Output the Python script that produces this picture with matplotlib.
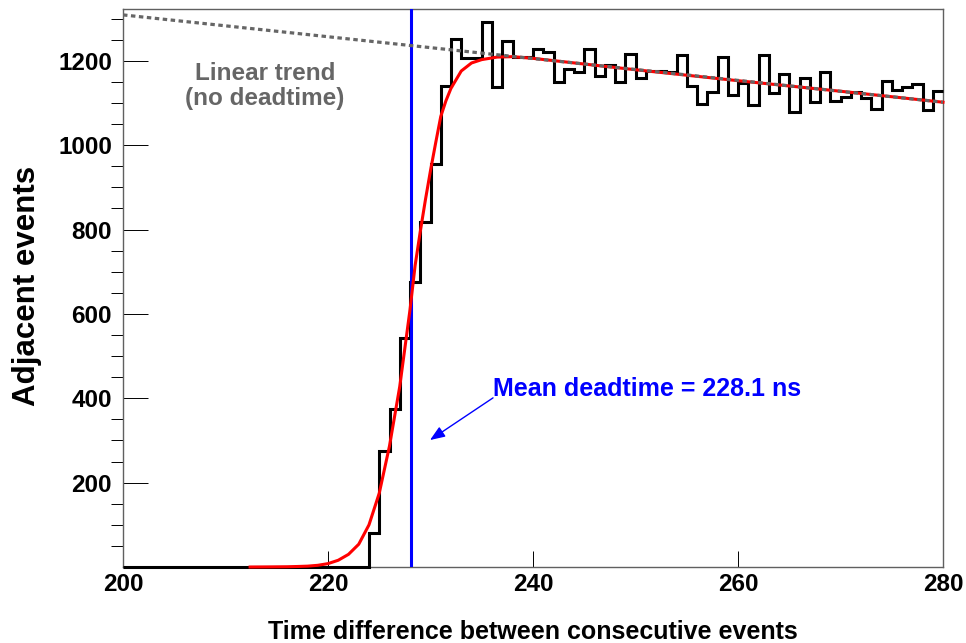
import numpy as np
import matplotlib.pyplot as plt
from matplotlib.ticker import FixedLocator

# ------------------------------------------------------------
# data
# ------------------------------------------------------------
bin_edges = np.arange(200, 281)          # 1 ns bins, 200 .. 280
counts = [0] * 24 + [                    # 200 .. 223 empty
    81, 275, 375, 542, 676, 818, 955, 1141,          # 224 .. 231
    1252, 1206, 1208, 1291, 1137, 1246, 1210, 1210,  # 232 .. 239
    1228, 1220, 1151, 1180, 1173, 1228, 1165, 1190,  # 240 .. 247
    1149, 1216, 1159, 1176, 1176, 1173, 1214, 1141,  # 248 .. 255
    1098, 1126, 1209, 1118, 1147, 1096, 1213, 1123,  # 256 .. 263
    1169, 1078, 1160, 1103, 1173, 1106, 1115, 1127,  # 264 .. 271
    1111, 1085, 1153, 1130, 1137, 1145, 1084, 1129,  # 272 .. 279
]

# fitted curve (red)
fit_t = [212.4, 214, 216, 217, 218, 219, 220, 221, 222, 223, 224, 225,
         226, 227, 228, 228.5, 229, 229.5, 230, 230.5, 231, 231.5, 232,
         233, 234, 235, 236.5, 238, 240, 250, 260, 270, 280]
fit_y = [0, 0.2, 0.6, 1.2, 2, 4, 8, 16, 30, 54, 100, 175,
         287, 428, 610, 715, 795, 870, 940, 1005, 1068, 1105, 1135,
         1176, 1195, 1203, 1209, 1210, 1206, 1179, 1153, 1128, 1102]

# linear trend (no deadtime)
trend_t = [200, 280]
trend_y = [1309, 1102]

mean_deadtime = 228.1

# ------------------------------------------------------------
# figure
# ------------------------------------------------------------
plt.rcParams['font.family'] = ['Liberation Sans', 'DejaVu Sans']
plt.rcParams['font.weight'] = 'bold'

fig = plt.figure(figsize=(9.66, 6.43), dpi=100)
ax = fig.add_axes([123 / 966, 1 - 567 / 643, 820 / 966, 558 / 643])

ax.stairs(counts, bin_edges, color='black', lw=2.2, baseline=None,
          clip_on=False, zorder=2.6)
ax.axvline(mean_deadtime, color='#0000ff', lw=2.2, zorder=3)
ax.plot(fit_t, fit_y, color='#ff0000', lw=2.2, zorder=4, clip_on=False)
ax.plot(trend_t, trend_y, color='#666666', lw=2.3,
        linestyle=(0, (1.4, 1.1)), zorder=5)

ax.set_xlim(200, 280)
ax.set_ylim(0, 1323)

# ticks (ROOT-like: inward, left/bottom only)
ax.set_xticks([200, 220, 240, 260, 280])
ax.set_yticks([200, 400, 600, 800, 1000, 1200])
ax.yaxis.set_minor_locator(FixedLocator(
    [v for v in range(50, 1301, 50) if v % 200 != 0]))
ax.tick_params(axis='both', direction='in', labelsize=17.5, colors='black')
ax.tick_params(axis='x', length=11.5, width=0.7, pad=4)
ax.tick_params(axis='y', which='major', length=18, width=0.7, pad=8)
ax.tick_params(axis='y', which='minor', length=8.6, width=0.7)
for lab in ax.get_xticklabels() + ax.get_yticklabels():
    lab.set_fontweight('bold')
for sp in ax.spines.values():
    sp.set_color('#606060')
    sp.set_linewidth(1.0)

# axis titles
fig.text(533 / 966, 1 - 639 / 643, 'Time difference between consecutive events',
         ha='center', va='baseline', fontsize=18, fontweight='bold')
fig.text(35 / 966, 1 - 286 / 643, 'Adjacent events', rotation=90,
         rotation_mode='anchor', ha='center', va='baseline',
         fontsize=22.5, fontweight='bold')

# annotations
ax.text(213.85, 1140, 'Linear trend\n(no deadtime)', ha='center', va='center',
        color='#666666', fontsize=17.5, fontweight='bold', linespacing=1.1)
ax.annotate('', xy=(229.95, 301), xytext=(236.1, 401),
            arrowprops=dict(arrowstyle='-|>,head_length=0.9,head_width=0.35',
                            color='#0000ff', lw=1.0, shrinkA=0, shrinkB=0))
ax.text(236.1, 405, f'Mean deadtime = {mean_deadtime} ns', ha='left',
        va='baseline', color='#0000ff', fontsize=18, fontweight='bold')

fig.savefig('out.png', dpi=100)
